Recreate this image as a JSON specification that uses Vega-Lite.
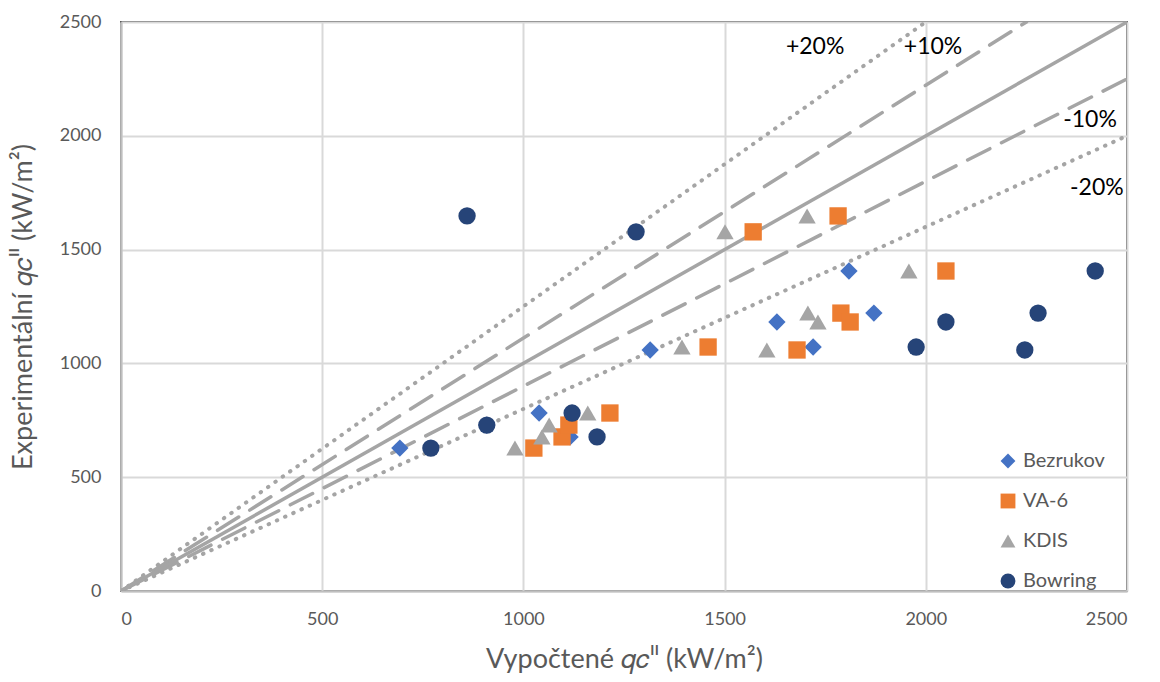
{
  "$schema": "https://vega.github.io/schema/vega-lite/v6.json",
  "width": 1006,
  "height": 569,
  "autosize": {"type": "none"},
  "padding": {"left": 121, "top": 22, "right": 33, "bottom": 91},
  "background": "white",
  "config": {
    "font": "Lato",
    "view": {"stroke": "#595959", "strokeWidth": 2},
    "axis": {
      "labelFont": "Lato", "labelFontSize": 18, "labelColor": "#595959",
      "titleFont": "Lato", "titleFontSize": 27, "titleColor": "#595959", "titleFontWeight": "normal",
      "gridColor": "#D9D9D9", "gridWidth": 2, "domainColor": "#BFBFBF", "domainWidth": 2,
      "ticks": false
    }
  },
  "datasets": {
    "pts": [
      {"series": "Bezrukov", "x": 693, "y": 628},
      {"series": "Bezrukov", "x": 909, "y": 729},
      {"series": "Bezrukov", "x": 1039, "y": 782},
      {"series": "Bezrukov", "x": 1116, "y": 677},
      {"series": "Bezrukov", "x": 1315, "y": 1059},
      {"series": "Bezrukov", "x": 1630, "y": 1182},
      {"series": "Bezrukov", "x": 1720, "y": 1072},
      {"series": "Bezrukov", "x": 1809, "y": 1406},
      {"series": "Bezrukov", "x": 1871, "y": 1221},
      {"series": "VA-6", "x": 1026, "y": 628},
      {"series": "VA-6", "x": 1096, "y": 677},
      {"series": "VA-6", "x": 1113, "y": 729},
      {"series": "VA-6", "x": 1215, "y": 782},
      {"series": "VA-6", "x": 1459, "y": 1072},
      {"series": "VA-6", "x": 1680, "y": 1059},
      {"series": "VA-6", "x": 1789, "y": 1221},
      {"series": "VA-6", "x": 1812, "y": 1182},
      {"series": "VA-6", "x": 1571, "y": 1578},
      {"series": "VA-6", "x": 1782, "y": 1648},
      {"series": "VA-6", "x": 2050, "y": 1406},
      {"series": "KDIS", "x": 979, "y": 628},
      {"series": "KDIS", "x": 1046, "y": 677},
      {"series": "KDIS", "x": 1064, "y": 729},
      {"series": "KDIS", "x": 1160, "y": 782},
      {"series": "KDIS", "x": 1394, "y": 1072},
      {"series": "KDIS", "x": 1605, "y": 1059},
      {"series": "KDIS", "x": 1707, "y": 1221},
      {"series": "KDIS", "x": 1732, "y": 1182},
      {"series": "KDIS", "x": 1501, "y": 1578},
      {"series": "KDIS", "x": 1705, "y": 1648},
      {"series": "KDIS", "x": 1958, "y": 1406},
      {"series": "Bowring", "x": 770, "y": 628},
      {"series": "Bowring", "x": 909, "y": 729},
      {"series": "Bowring", "x": 1121, "y": 782},
      {"series": "Bowring", "x": 1183, "y": 677},
      {"series": "Bowring", "x": 860, "y": 1648},
      {"series": "Bowring", "x": 1280, "y": 1578},
      {"series": "Bowring", "x": 1976, "y": 1072},
      {"series": "Bowring", "x": 2050, "y": 1182},
      {"series": "Bowring", "x": 2246, "y": 1059},
      {"series": "Bowring", "x": 2279, "y": 1221},
      {"series": "Bowring", "x": 2421, "y": 1406}
    ],
    "lines": [
      {"k": "0", "style": "solid", "x": 0, "y": 0},
      {"k": "0", "style": "solid", "x": 2500, "y": 2500},
      {"k": "+10", "style": "dash", "x": 0, "y": 0},
      {"k": "+10", "style": "dash", "x": 2250, "y": 2500},
      {"k": "-10", "style": "dash", "x": 0, "y": 0},
      {"k": "-10", "style": "dash", "x": 2500, "y": 2250},
      {"k": "+20", "style": "dot", "x": 0, "y": 0},
      {"k": "+20", "style": "dot", "x": 2000, "y": 2500},
      {"k": "-20", "style": "dot", "x": 0, "y": 0},
      {"k": "-20", "style": "dot", "x": 2500, "y": 2000}
    ],
    "labels": [
      {"t": "+20%", "x": 1725, "y": 2390},
      {"t": "+10%", "x": 2018, "y": 2390},
      {"t": "-10%", "x": 2408, "y": 2069},
      {"t": "-20%", "x": 2425, "y": 1771}
    ]
  },
  "layer": [
    {
      "data": {"name": "lines"},
      "transform": [{"filter": "datum.style === 'dot'"}],
      "mark": {"type": "line", "color": "#A5A5A5", "strokeWidth": 4, "strokeDash": [0.5, 8.5], "strokeCap": "round", "clip": true},
      "encoding": {
        "x": {"field": "x", "type": "quantitative", "scale": {"domain": [0, 2500], "nice": false, "zero": true},
          "axis": {"values": [0, 500, 1000, 1500, 2000, 2500], "format": "d", "labelPadding": 19, "title": "Vypočtené 𝑞𝑐ᴵᴵ (kW/m²)", "titlePadding": 18}},
        "y": {"field": "y", "type": "quantitative", "scale": {"domain": [0, 2500], "nice": false, "zero": true},
          "axis": {"values": [0, 500, 1000, 1500, 2000, 2500], "format": "d", "labelPadding": 20, "title": "Experimentální 𝑞𝑐ᴵᴵ (kW/m²)", "titlePadding": 22}},
        "detail": {"field": "k"}
      }
    },
    {
      "data": {"name": "lines"},
      "transform": [{"filter": "datum.style === 'dash'"}],
      "mark": {"type": "line", "color": "#A5A5A5", "strokeWidth": 3.5, "strokeDash": [25, 13], "strokeCap": "round", "clip": true},
      "encoding": {
        "x": {"field": "x", "type": "quantitative"},
        "y": {"field": "y", "type": "quantitative"},
        "detail": {"field": "k"}
      }
    },
    {
      "data": {"name": "lines"},
      "transform": [{"filter": "datum.style === 'solid'"}],
      "mark": {"type": "line", "color": "#A5A5A5", "strokeWidth": 3.5, "clip": true},
      "encoding": {
        "x": {"field": "x", "type": "quantitative"},
        "y": {"field": "y", "type": "quantitative"},
        "detail": {"field": "k"}
      }
    },
    {
      "data": {"name": "labels"},
      "mark": {"type": "text", "fontSize": 23, "font": "Lato", "color": "#000000", "align": "center", "baseline": "middle"},
      "encoding": {
        "x": {"field": "x", "type": "quantitative"},
        "y": {"field": "y", "type": "quantitative"},
        "text": {"field": "t"}
      }
    },
    {
      "data": {"name": "pts"},
      "mark": {"type": "point", "filled": true, "opacity": 1, "size": 300},
      "encoding": {
        "x": {"field": "x", "type": "quantitative"},
        "y": {"field": "y", "type": "quantitative"},
        "color": {"field": "series", "type": "nominal",
          "scale": {"domain": ["Bezrukov", "VA-6", "KDIS", "Bowring"], "range": ["#4472C4", "#ED7D31", "#A5A5A5", "#264478"]},
          "legend": {"title": null, "orient": "none", "legendX": 877, "legendY": 429, "labelFont": "Lato", "labelFontSize": 20, "labelColor": "#595959", "symbolSize": 220, "rowPadding": 20, "labelOffset": 5}},
        "shape": {"field": "series", "type": "nominal",
          "scale": {"domain": ["Bezrukov", "VA-6", "KDIS", "Bowring"], "range": ["diamond", "square", "triangle-up", "circle"]}}
      }
    }
  ]
}
